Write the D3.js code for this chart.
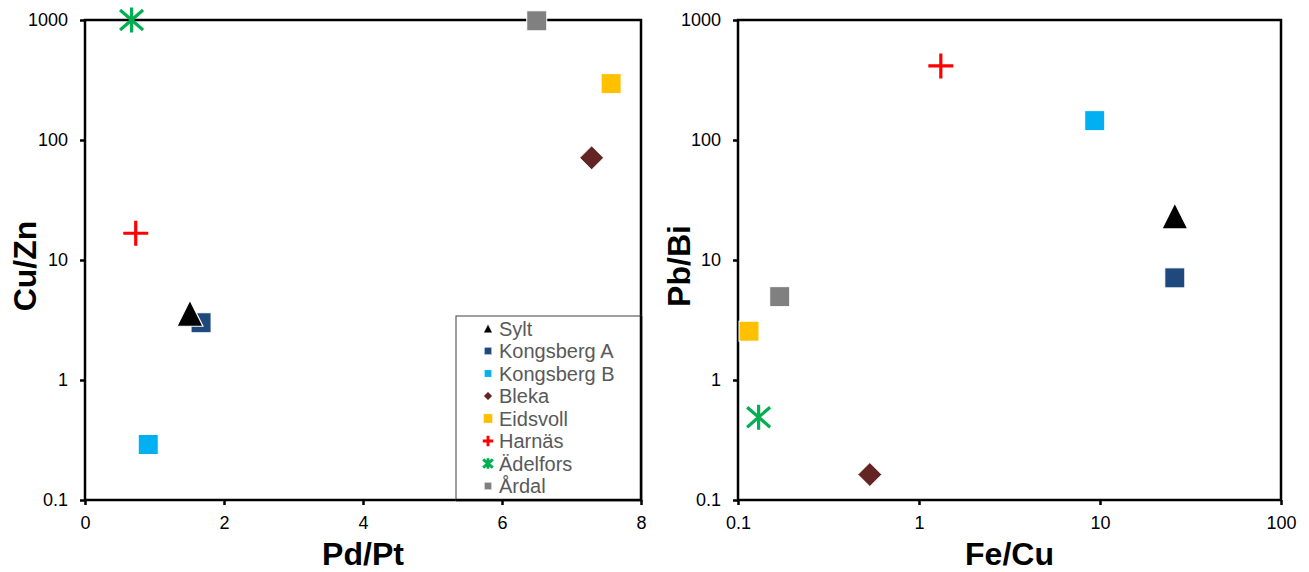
<!DOCTYPE html>
<html>
<head>
<meta charset="utf-8">
<script src="https://cdn.jsdelivr.net/npm/d3@7"></script>
<style>
  html, body { margin: 0; padding: 0; background: #fff; }
  svg { display: block; font-family: "Liberation Sans", Arial, sans-serif; }
</style>
</head>
<body>
<svg id="chart" width="1309" height="572"></svg>
<script>
// ---- data ----
const series = ["Sylt", "Kongsberg A", "Kongsberg B", "Bleka", "Eidsvoll", "Harnäs", "Ädelfors", "Årdal"];
const markerTypes = ["triangle", "square", "square", "diamond", "square", "plus", "star", "square"];
const colors = ["#000000", "#1F497D", "#00B0F0", "#632523", "#FFC000", "#FF0000", "#00B050", "#808080"];

const pdPt = [1.51, 1.67, 0.91, 7.29, 7.57, 0.73, 0.67, 6.50];
const cuZn = [3.6, 3.0, 0.29, 71, 295, 16.7, 1000, 985];
const feCu = [25.9, 25.9, 9.35, 0.535, 0.115, 1.32, 0.130, 0.170];
const pbBi = [23.3, 7.1, 145, 0.163, 2.55, 414, 0.49, 4.95];

const linTicks = [0, 2, 4, 6, 8];
const logTicksY = [0.1, 1, 10, 100, 1000];
const logTicksX = [0.1, 1, 10, 100];

const svg = d3.select("#chart");
svg.append("rect").attr("width", 1309).attr("height", 572).attr("fill", "#fff");

function drawMarker(g, type, color, s) {
  if (type === "triangle") {
    const w = 26 * s, h = 26 * s;
    g.append("path")
      .attr("d", `M0,${-h/2}L${w/2},${h/2}L${-w/2},${h/2}Z`)
      .attr("fill", color).attr("stroke", "#fff").attr("stroke-width", 1.2 * s);
  } else if (type === "square") {
    const a = 20 * s;
    g.append("rect").attr("x", -a/2).attr("y", -a/2).attr("width", a).attr("height", a)
      .attr("fill", color).attr("stroke", "#fff").attr("stroke-width", 1 * s);
  } else if (type === "diamond") {
    const r = 12 * s;
    g.append("path").attr("d", `M0,${-r}L${r},0L0,${r}L${-r},0Z`)
      .attr("fill", color).attr("stroke", "#fff").attr("stroke-width", 1 * s);
  } else if (type === "plus") {
    const r = 12.5 * s;
    g.append("path").attr("d", `M${-r},0L${r},0M0,${-r}L0,${r}`)
      .attr("stroke", color).attr("stroke-width", 3.2 * Math.max(s, 0.9)).attr("fill", "none");
  } else if (type === "star") {
    const r = 12.5 * s, dx = 11.5 * s, dy = 10 * s;
    g.append("path").attr("d", `M0,${-r}L0,${r}M${-dx},${-dy}L${dx},${dy}M${-dx},${dy}L${dx},${-dy}`)
      .attr("stroke", color).attr("stroke-width", 3.2 * Math.max(s, 0.9)).attr("fill", "none");
  }
}

function panel(opts) {
  const { left, right, top, bottom, x, y, xVals, yVals, xTicks, yTicks, xTitle, yTitle, yTitleX } = opts;
  const g = svg.append("g");

  // frame
  g.append("rect").attr("x", left).attr("y", top)
    .attr("width", right - left).attr("height", bottom - top)
    .attr("fill", "none").attr("stroke", "#000").attr("stroke-width", 2.5);

  // axes
  const yAxis = d3.axisLeft(y).tickValues(yTicks).tickSize(5).tickPadding(12)
    .tickFormat(d => String(d));
  const ya = g.append("g").attr("transform", `translate(${left},0)`).call(yAxis);
  const xAxis = d3.axisBottom(x).tickValues(xTicks).tickSize(5).tickPadding(11)
    .tickFormat(d => String(d));
  const xa = g.append("g").attr("transform", `translate(0,${bottom})`).call(xAxis);
  [ya, xa].forEach(a => {
    a.select(".domain").remove();
    a.selectAll(".tick line").attr("stroke", "#000").attr("stroke-width", 2.5);
    a.selectAll(".tick text").attr("fill", "#000").style("font-size", "18px")
      .style("font-family", "'Liberation Sans', Arial, sans-serif");
  });

  // titles
  g.append("text").attr("x", (left + right) / 2).attr("y", 565)
    .attr("text-anchor", "middle").style("font-size", "32px").style("font-weight", "bold")
    .attr("fill", "#000").text(xTitle);
  g.append("text").attr("transform", `translate(${yTitleX},${(top + bottom) / 2 + 6}) rotate(-90)`)
    .attr("text-anchor", "middle").style("font-size", "32px").style("font-weight", "bold")
    .attr("fill", "#000").text(yTitle);

  // points (draw last series first so Sylt is on top)
  const idx = d3.range(series.length).reverse();
  idx.forEach(i => {
    const m = g.append("g").attr("transform", `translate(${x(xVals[i])},${y(yVals[i])})`);
    drawMarker(m, markerTypes[i], colors[i], 1);
  });
  return g;
}

// left panel
const x1 = d3.scaleLinear().domain([0, 8]).range([85, 641]);
const y1 = d3.scaleLog().domain([0.1, 1000]).range([500, 20]);
panel({ left: 85, right: 641, top: 20, bottom: 500, x: x1, y: y1,
  xVals: pdPt, yVals: cuZn, xTicks: linTicks, yTicks: logTicksY,
  xTitle: "Pd/Pt", yTitle: "Cu/Zn", yTitleX: 36 });

// right panel
const x2 = d3.scaleLog().domain([0.1, 100]).range([738, 1281]);
const y2 = d3.scaleLog().domain([0.1, 1000]).range([500, 20]);
panel({ left: 738, right: 1281, top: 20, bottom: 500, x: x2, y: y2,
  xVals: feCu, yVals: pbBi, xTicks: logTicksX, yTicks: logTicksY,
  xTitle: "Fe/Cu", yTitle: "Pb/Bi", yTitleX: 690 });

// legend (inside left panel, bottom-right)
const lg = svg.append("g");
lg.append("rect").attr("x", 456).attr("y", 316).attr("width", 641 - 456).attr("height", 500 - 316)
  .attr("fill", "#fff").attr("stroke", "#404040").attr("stroke-width", 1);
const legendScales = [0.33, 0.36, 0.36, 0.36, 0.46, 0.42, 0.42, 0.36];
series.forEach((name, i) => {
  const cy = 328.5 + i * 22.5;
  const m = lg.append("g").attr("transform", `translate(488,${cy})`);
  drawMarker(m, markerTypes[i], colors[i], legendScales[i]);
  lg.append("text").attr("x", 499).attr("y", cy).attr("dy", "0.35em")
    .style("font-size", "20px").attr("fill", "#595959").text(name);
});
// redraw bottom/right frame edge over legend
lg.append("path").attr("d", "M456,500L641,500L641,316").attr("stroke", "#000")
  .attr("stroke-width", 2.5).attr("fill", "none");
</script>
</body>
</html>
